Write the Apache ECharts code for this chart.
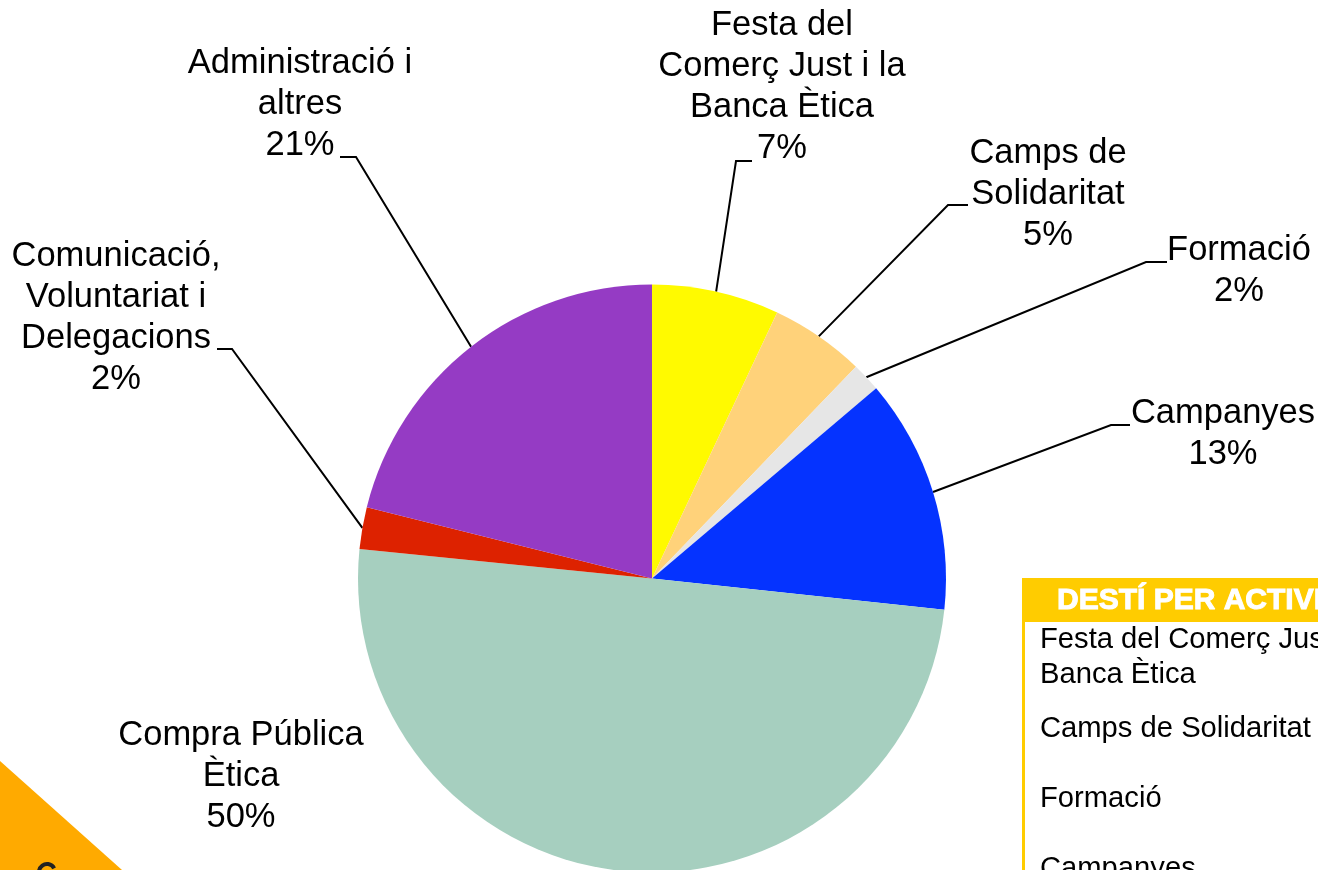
<!DOCTYPE html>
<html><head><meta charset="utf-8">
<style>html,body{margin:0;padding:0;background:#fff;overflow:hidden}#c{width:1318px;height:870px}</style>
<script src="https://cdn.jsdelivr.net/npm/echarts@6/dist/echarts.min.js"></script>
</head><body><div id="c"></div>
<script>
const categories = ['Festa del\nComerç Just i la\nBanca Ètica','Camps de\nSolidaritat','Formació','Campanyes','Compra Pública\nÈtica','Comunicació,\nVoluntariat i\nDelegacions','Administració i\naltres'];
const values = [7.0,5.2,1.6,12.9,49.9,2.3,21.1];
const colors = ['#FFFA00','#FFD27A','#E6E6E6','#0533FF','#A6CFBF','#DD2200','#953BC4'];
const labelCentres = [[782,87],[1048,194],[1239,271],[1223,434],[241,776],[116,317.5],[300,104]];
const elbows = [[[736,161],[752,161]],[[948,205],[968,205]],[[1146,262],[1167,262]],[[1111,425],[1130,425]],null,[[232,349],[217,349]],[[356,157],[340,157]]];
const tableTitle = 'DESTÍ PER ACTIVITAT';
const tableRows = [['Festa del Comerç Just i la\nBanca Ètica',657],['Camps de Solidaritat',729],['Formació',799],['Campanyes',869]];

const font = '"Liberation Sans", Arial, sans-serif';
const chart = echarts.init(document.getElementById('c'), null, {renderer:'canvas'});
chart.setOption({
  animation:false,
  backgroundColor:'#fff',
  series:[{
    type:'pie',
    center:[652,578.5],
    radius:[0,294],
    startAngle:90,
    clockwise:true,
    percentPrecision:0,
    avoidLabelOverlap:false,
    data:categories.map((n,i)=>({name:n,value:values[i],itemStyle:{color:colors[i]},labelLine:{show:elbows[i]!==null}})),
    label:{show:true,position:'outside',formatter:'{b}\n{d}%',color:'#000',fontFamily:font,fontSize:34.5,lineHeight:41,align:'center',verticalAlign:'middle'},
    labelLine:{show:true,length:10,length2:10,smooth:false,lineStyle:{color:'#000',width:2}},
    emphasis:{disabled:true},
    labelLayout:function(p){
      const i=p.dataIndex, out={x:labelCentres[i][0],y:labelCentres[i][1],align:'center',verticalAlign:'middle'};
      if(elbows[i]&&p.labelLinePoints){const pts=p.labelLinePoints;pts[1]=elbows[i][0];pts[2]=elbows[i][1];out.labelLinePoints=pts;}
      return out;
    }
  }],
  graphic:[
    {type:'polygon',shape:{points:[[0,761],[122,870],[0,870]]},style:{fill:'#FFAA00'},silent:true},
    {type:'arc',shape:{cx:47,cy:872,r:8,startAngle:Math.PI*1.05,endAngle:Math.PI*1.85},style:{stroke:'#222',lineWidth:4,fill:null},silent:true},
    {type:'rect',shape:{x:1022,y:578,width:296,height:44},style:{fill:'#FFCC00'},silent:true},
    {type:'rect',shape:{x:1022,y:578,width:3,height:292},style:{fill:'#FFCC00'},silent:true},
    {type:'text',x:1057,y:601,style:{text:tableTitle,fill:'#fff',stroke:'#fff',lineWidth:1,font:'bold 30px '+font,textVerticalAlign:'middle'},silent:true}
  ].concat(tableRows.map(r=>({type:'text',x:1040,y:r[1],style:{text:r[0],fill:'#000',font:'29.2px '+font,lineHeight:35,textVerticalAlign:'middle'},silent:true})))
});
</script></body></html>
